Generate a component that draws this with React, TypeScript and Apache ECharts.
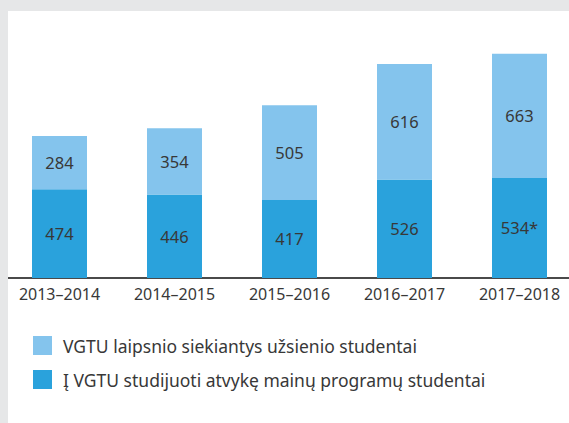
import React, { useEffect, useRef } from "react";
import * as echarts from "echarts";

const categories = ["2013–2014", "2014–2015", "2015–2016", "2016–2017", "2017–2018"];
const exchangeStudents = [474, 446, 417, 526, 534];
const exchangeLabels = ["474", "446", "417", "526", "534*"];
const degreeStudents = [284, 354, 505, 616, 663];
const seriesNames = [
  "VGTU laipsnio siekiantys užsienio studentai",
  "Į VGTU studijuoti atvykę mainų programų studentai",
];

const FONT = "'Noto Sans', 'Open Sans', sans-serif";

export default function App() {
  const ref = useRef<HTMLDivElement>(null);
  useEffect(() => {
    if (!ref.current) return;
    const chart = echarts.init(ref.current, null, { renderer: "svg" });
    chart.setOption({
      animation: false,
      backgroundColor: "#ffffff",
      textStyle: { fontFamily: FONT },
      grid: { left: 2, width: 575, top: 12, height: 266 },
      xAxis: {
        type: "category",
        data: categories,
        axisLine: { show: true, lineStyle: { color: "#4a4a4a", width: 2 } },
        axisTick: { show: false },
        axisLabel: { color: "#383838", fontSize: 16, margin: 8, fontFamily: FONT },
      },
      yAxis: {
        type: "value",
        min: 0,
        max: 1420,
        show: false,
        splitLine: { show: false },
      },
      legend: {
        orient: "vertical",
        left: 33,
        top: 336,
        padding: 0,
        itemWidth: 19,
        itemHeight: 19,
        itemGap: 15,
        icon: "rect",
        data: [seriesNames[0], seriesNames[1]],
        textStyle: {
          color: "#383838",
          fontSize: 17.5,
          lineHeight: 19,
          fontFamily: FONT,
          padding: [0, 0, 0, 6],
        },
      },
      series: [
        {
          name: seriesNames[1],
          type: "bar",
          stack: "total",
          barWidth: 55,
          data: exchangeStudents,
          itemStyle: { color: "#2aa2dc" },
          label: {
            show: true,
            position: "inside",
            color: "#383838",
            fontSize: 16.5,
            fontFamily: FONT,
            formatter: (p: any) => exchangeLabels[p.dataIndex],
          },
        },
        {
          name: seriesNames[0],
          type: "bar",
          stack: "total",
          barWidth: 55,
          data: degreeStudents,
          itemStyle: { color: "#84c4ed" },
          label: {
            show: true,
            position: "inside",
            color: "#383838",
            fontSize: 16.5,
            fontFamily: FONT,
          },
        },
      ],
      graphic: [
        {
          type: "rect",
          z: 100,
          shape: { x: 0, y: 0, width: 600, height: 11 },
          style: { fill: "#e6e7e8" },
        },
        {
          type: "rect",
          z: 100,
          shape: { x: 0, y: 0, width: 8, height: 423 },
          style: { fill: "#e6e7e8" },
        },
      ],
    });
    return () => chart.dispose();
  }, []);
  return (
    <div
      ref={ref}
      style={{ position: "fixed", left: 0, top: 0, width: 600, height: 423 }}
    />
  );
}
